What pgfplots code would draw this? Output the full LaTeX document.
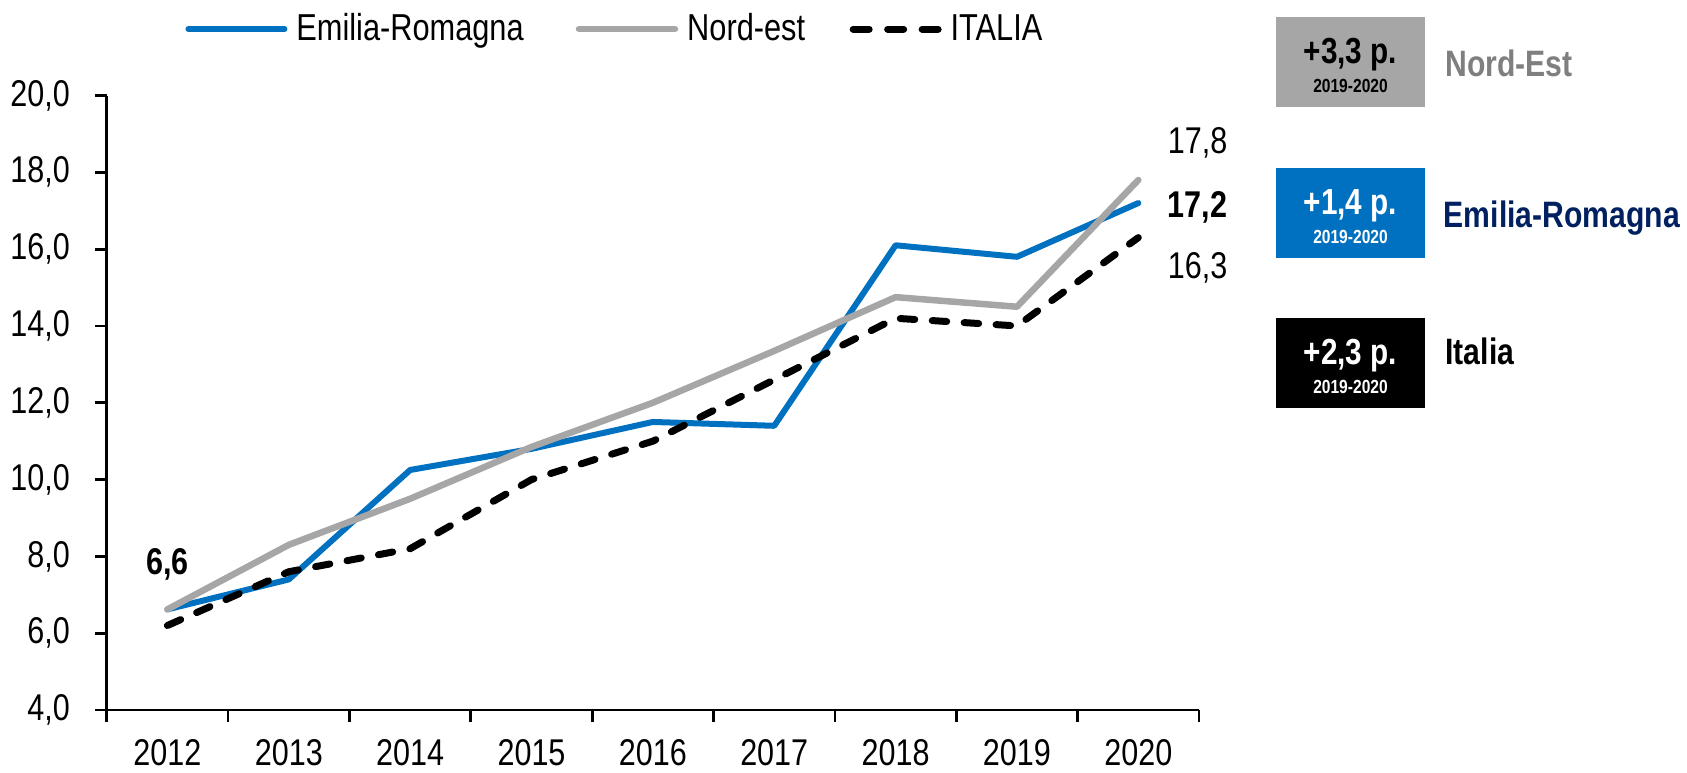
\documentclass[border=0pt]{standalone}
\usepackage{fontspec}
\setmainfont{Liberation Sans}[FakeStretch=0.82]
\usepackage{pgfplots}
\pgfplotsset{compat=1.18}

\definecolor{erblue}{HTML}{0070C0}
\definecolor{negray}{HTML}{A6A6A6}
\definecolor{netext}{HTML}{7F7F7F}
\definecolor{ernavy}{HTML}{002060}
\newcommand\fs[1]{\fontsize{#1}{#1}\selectfont}
\pgfplotsset{
    solidimg/.style={legend image code/.code={\draw[##1] (0pt,0pt) -- (38.4pt,0pt);}},
    dashimg/.style={legend image code/.code={
        \draw[##1, dash pattern=on 6.4pt off 7.4pt] (0pt,0pt) -- (34pt,0pt);}},
}

\begin{document}
\begin{tikzpicture}
\useasboundingbox (-42.7pt,-24.8pt) rectangle (632.1pt,284pt);
\begin{axis}[
    at={(0pt,0pt)}, anchor=south west,
    scale only axis,
    width=436.9pt, height=245.8pt,
    xmin=-0.5, xmax=8.5,
    ymin=4, ymax=20,
    axis lines*=left,
    axis line style={line width=1.1pt},
    tick align=outside,
    major tick length=4.6pt,
    minor tick length=4.6pt,
    every tick/.style={black, line width=1.1pt},
    xtick={0,...,8},
    xticklabels={2012,2013,2014,2015,2016,2017,2018,2019,2020},
    major x tick style={draw=none},
    minor xtick={-0.5,0.5,...,8.5},
    ytick={4,6,...,20},
    /pgf/number format/.cd, fixed, fixed zerofill, precision=1, use comma, assume math mode=true,
    /pgfplots/.cd,
    ticklabel style={font=\fs{14.9}, inner sep=0pt},
    xticklabel style={anchor=north, yshift=-7pt},
    yticklabel style={anchor=east, xshift=-10pt},
    clip=false,
    legend columns=3,
    legend style={at={(0.0716,1.108)}, anchor=west, draw=none, fill=none,
        inner sep=0pt, font=\fs{15}, nodes={inner sep=0pt}, column sep=3.6pt},
    solidimg,
]
% Emilia-Romagna
\addplot[color=erblue, line width=2.4pt, line cap=round, line join=round] coordinates {
    (0,6.62) (1,7.4) (2,10.25) (3,10.8) (4,11.5) (5,11.4) (6,16.1) (7,15.8) (8,17.2)
};
\addlegendentry{Emilia-Romagna\hspace*{17.2pt}}
% Nord-est
\addplot[color=negray, line width=2.6pt, line cap=round, line join=round] coordinates {
    (0,6.62) (1,8.3) (2,9.5) (3,10.85) (4,12.0) (5,13.35) (6,14.75) (7,14.5) (8,17.8)
};
\addlegendentry{Nord-est\hspace*{14.2pt}}
% Italia
\addplot[color=black, line width=2.8pt, line cap=round, dash pattern=on 5.8pt off 7pt, dashimg] coordinates {
    (0,6.2) (1,7.6) (2,8.2) (3,10.0) (4,11.0) (5,12.6) (6,14.2) (7,14.0) (8,16.3)
};
\addlegendentry{ITALIA}

\node[font=\bfseries\fs{14.9}] at (axis cs:0,7.78) {6,6};
\node[font=\fs{14.9}, anchor=west, inner sep=0pt] at (axis cs:8.24,18.76) {17,8};
\node[font=\bfseries\fs{14.9}, anchor=west, inner sep=0pt] at (axis cs:8.24,17.1) {17,2};
\node[font=\fs{14.9}, anchor=west, inner sep=0pt] at (axis cs:8.24,15.51) {16,3};
\end{axis}

% boxes on the right
\fill[negray] (467.7pt,241.2pt) rectangle (527.3pt,277.2pt);
\fill[erblue] (467.7pt,180.8pt) rectangle (527.3pt,216.8pt);
\fill[black]  (467.7pt,120.8pt) rectangle (527.3pt,156.8pt);
\begin{scope}[every node/.style={inner sep=0pt, anchor=base}]
\node[font=\bfseries\fs{14.5}] at (497.5pt,258.6pt) {+3,3 p.};
\node[font=\bfseries\fs{7.6}] at (497.5pt,247.1pt) {2019-2020};
\node[font=\bfseries\fs{14.5}, white] at (497.5pt,198.2pt) {+1,4 p.};
\node[font=\bfseries\fs{7.6}, white] at (497.5pt,186.7pt) {2019-2020};
\node[font=\bfseries\fs{14.5}, white] at (497.5pt,138.2pt) {+2,3 p.};
\node[font=\bfseries\fs{7.6}, white] at (497.5pt,126.7pt) {2019-2020};
\end{scope}
\begin{scope}[every node/.style={inner sep=0pt, anchor=base west}]
\node[font=\bfseries\fs{14.7}, netext] at (535.3pt,253.6pt) {Nord-Est};
\node[font=\bfseries\fs{14.7}, ernavy] at (534.6pt,193.2pt) {Emilia-Romagna};
\node[font=\bfseries\fs{14.7}] at (535.3pt,138.4pt) {Italia};
\end{scope}
\end{tikzpicture}
\end{document}
